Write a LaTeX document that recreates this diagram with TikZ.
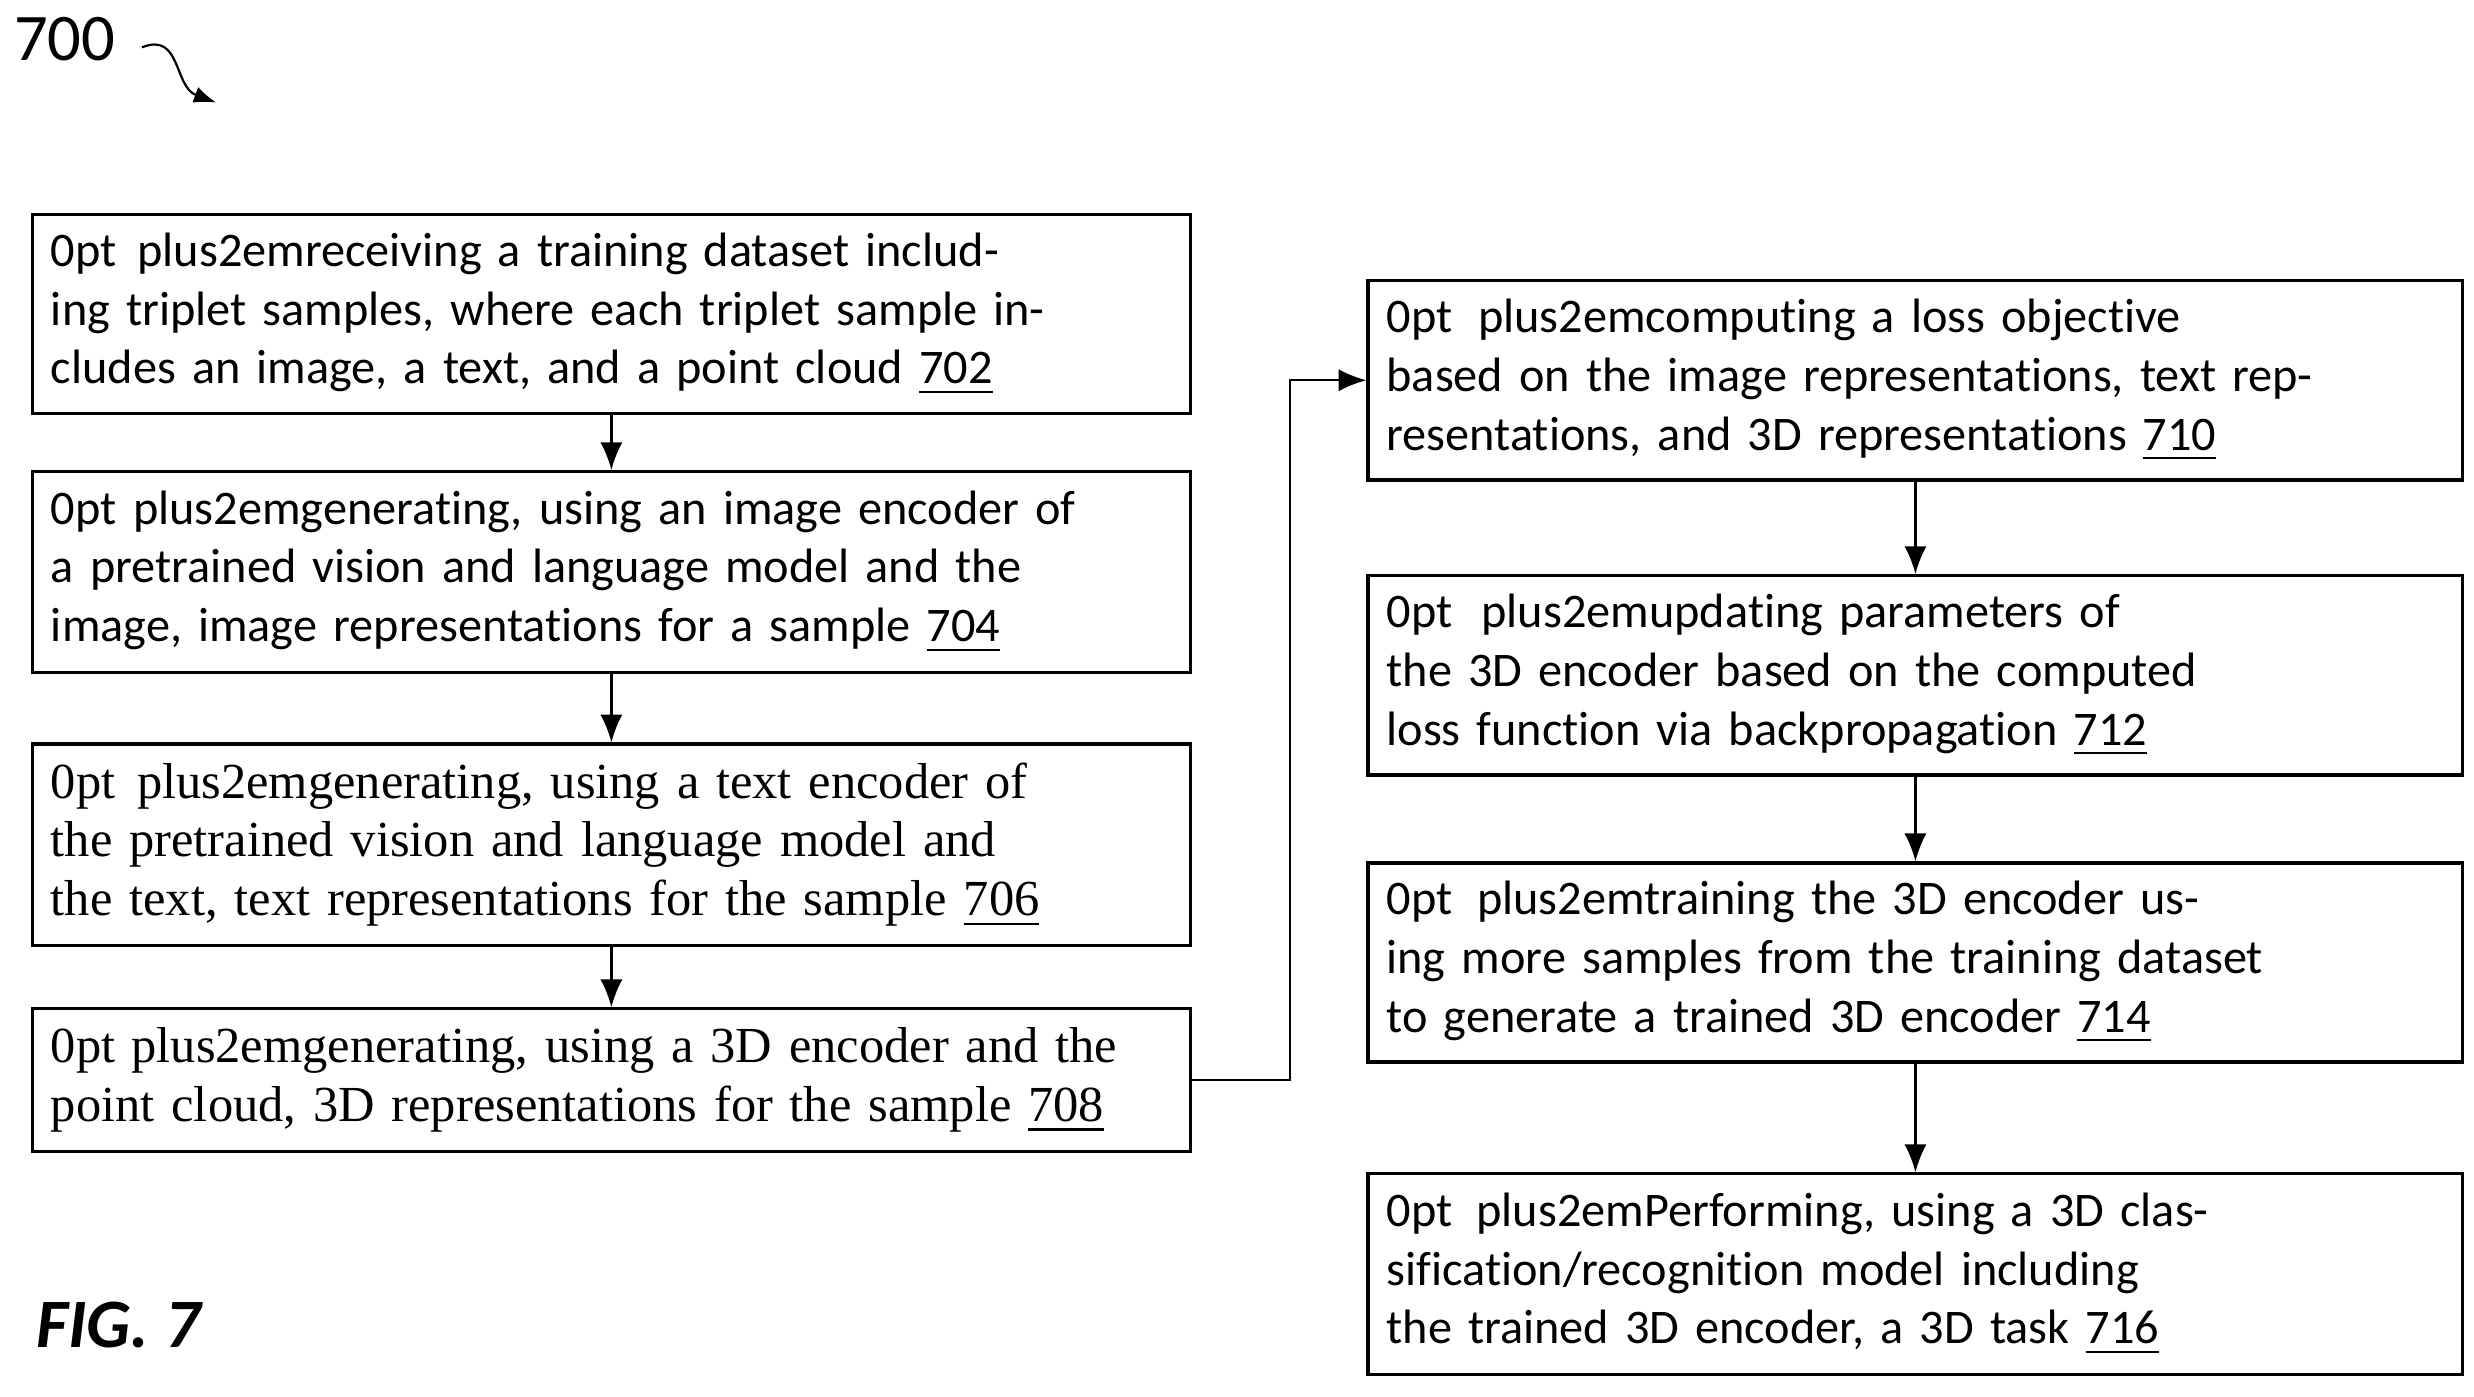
\documentclass[tikz,border=0pt]{standalone}
\usepackage{fontspec}
\setmainfont{Carlito}[Ligatures=NoCommon]
\newfontfamily\tnr{Liberation Serif}
\usetikzlibrary{arrows.meta}

\begin{document}
\begin{tikzpicture}[x=0.01cm,y=-0.01cm,
  box/.style={draw,semithick,minimum width=7.23cm,text width=7.1cm,align=center,font=\fontsize{8.7}{10.6}\selectfont\hyphenpenalty=10000},
  boxr/.style={box,minimum width=6.8cm,text width=6.7cm},
  flow/.style={-{Latex[length=5pt,width=4pt]}}]
\useasboundingbox (0,0) rectangle (1568,885);
\node (l700) at (41,25) {\fontsize{12}{14}\selectfont 700};
\coordinate (a0) at (90,30);
\coordinate (a1) at (137,65);
\draw[-{Latex[length=4pt,width=3pt]}] (a0) .. controls (115,20) and (110,55) .. (a1);
\node (fig) at (75,840) {\fontsize{12.5}{15}\selectfont\bfseries\itshape FIG. 7};
\node[box,minimum height=1.26cm] (s702) at (387.5,199) {receiving a training dataset including triplet samples, where each triplet sample includes an image, a text, and a point cloud \underline{702}};
\node[box,minimum height=1.27cm] (s704) at (387.5,362.5) {generating, using an image encoder of a pretrained vision and language model and the image, image representations for a sample \underline{704}};
\node[box,minimum height=1.27cm,font=\tnr\fontsize{9.1}{10.6}\selectfont\hyphenpenalty=10000] (s706) at (387.5,535.5) {generating, using a text encoder of the pretrained vision and language model and the text, text representations for the sample \underline{706}};
\node[box,minimum height=0.89cm,font=\tnr\fontsize{9.1}{10.6}\selectfont\hyphenpenalty=10000] (s708) at (387.5,684.5) {generating, using a 3D encoder and the point cloud, 3D representations for the sample \underline{708}};
\node[boxr,minimum height=1.26cm] (s710) at (1214,241) {computing a loss objective based on the image representations, text representations, and 3D representations \underline{710}};
\node[boxr,minimum height=1.26cm] (s712) at (1214,428) {updating parameters of the 3D encoder based on the computed loss function via backpropagation \underline{712}};
\node[boxr,minimum height=1.26cm] (s714) at (1214,610) {training the 3D encoder using more samples from the training dataset to generate a trained 3D encoder \underline{714}};
\node[boxr,minimum height=1.27cm] (s716) at (1214,807.5) {Performing, using a 3D classification/recognition model including the trained 3D encoder, a 3D task \underline{716}};
\foreach \a/\b in {s702/s704,s704/s706,s706/s708,s710/s712,s712/s714,s714/s716}
\draw[flow] (\a) -- (\b);
\draw[flow] (s708.east) -- ++(62,0) |- (s710.west);
\end{tikzpicture}
\end{document}
